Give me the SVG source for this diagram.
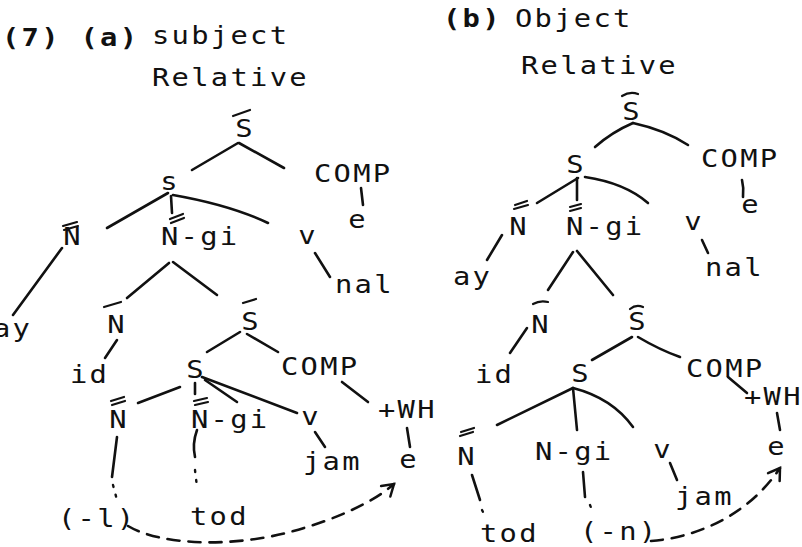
<svg xmlns="http://www.w3.org/2000/svg" width="802" height="547" viewBox="0 0 802 547">
  <style>
    text { font-family: "DejaVu Sans Mono", "Liberation Mono", monospace; font-size: 24px; fill: #111; }
    .t { letter-spacing: 1.9px; }
    .c { text-anchor: middle; }
    .b { font-weight: bold; }
    .ln { fill: none; stroke: #111; stroke-width: 2.6; stroke-linecap: round; }
    .bar { fill: none; stroke: #111; stroke-width: 2.2; stroke-linecap: round; }
    .dot { fill: none; stroke: #111; stroke-width: 2.4; stroke-linecap: round; stroke-dasharray: 2 8; }
    .dash { fill: none; stroke: #111; stroke-width: 2.6; stroke-linecap: round; stroke-dasharray: 12 9; }
  </style>
  <defs>
    <marker id="head" markerUnits="userSpaceOnUse" viewBox="-14 -10 18 20" markerWidth="18" markerHeight="20" refX="0" refY="0" orient="auto">
      <path d="M-11,-7 L0,0 L-11,7" fill="none" stroke="#111" stroke-width="2.5" stroke-linecap="round"/>
    </marker>
  </defs>
  <rect width="802" height="547" fill="#fff"/>

  <!-- headings (glyphs widened 1.2x to the typewriter face) -->
  <g id="title-a">
    <text class="t b" transform="translate(2 46) scale(1.2 1)">(7) (a)</text>
    <text class="t" transform="translate(152 44) scale(1.2 1)">subject</text>
    <text class="t" transform="translate(152 86) scale(1.2 1)">Relative</text>
  </g>
  <g id="title-b">
    <text class="t b" transform="translate(443 27) scale(1.2 1)">(b)</text>
    <text class="t" transform="translate(515 27) scale(1.2 1)">Object</text>
    <text class="t" transform="translate(521 74) scale(1.2 1)">Relative</text>
  </g>

  <!-- tree (a) nodes -->
  <g id="a-sbar-top"><text class="c" transform="translate(244 137) scale(1.2 1)">S</text><path class="bar" d="M233,116 L250,110"/></g>
  <g id="a-comp-top"><text class="t" transform="translate(314 182) scale(1.2 1)">COMP</text></g>
  <g id="a-e-top"><text class="c" transform="translate(357 228) scale(1.2 1)">e</text></g>
  <g id="a-s"><text class="c" transform="translate(169 190) scale(1.2 1)">s</text></g>
  <g id="a-nbb"><text class="c" transform="translate(72 245) scale(1.2 1)">N</text><path class="bar" d="M63,226 L77,222 M64,230 L78,226"/></g>
  <g id="a-ngi-top"><text class="t" transform="translate(161 245) scale(1.2 1)">N-gi</text><path class="bar" d="M170,219 L183,214 M171,223 L184,218"/></g>
  <g id="a-v-top"><text class="c" transform="translate(307 244) scale(1.2 1)">v</text></g>
  <g id="a-nal"><text class="t" transform="translate(335 293) scale(1.2 1)">nal</text></g>
  <g id="a-ay"><text class="t" transform="translate(-7 337) scale(1.2 1)">ay</text></g>
  <g id="a-nbar"><text class="c" transform="translate(116 333) scale(1.2 1)">N</text><path class="bar" d="M104,307 L121,302"/></g>
  <g id="a-id"><text class="t" transform="translate(70 383) scale(1.2 1)">id</text></g>
  <g id="a-sbar-mid"><text class="c" transform="translate(250 330) scale(1.2 1)">S</text><path class="bar" d="M243,303 L256,299"/></g>
  <g id="a-comp-mid"><text class="t" transform="translate(281 375) scale(1.2 1)">COMP</text></g>
  <g id="a-s-low"><text class="c" transform="translate(195 378) scale(1.2 1)">S</text></g>
  <g id="a-nbb-low"><text class="c" transform="translate(118 428) scale(1.2 1)">N</text><path class="bar" d="M111,401 L124,397 M112,405 L125,401"/></g>
  <g id="a-ngi-low"><text class="t" transform="translate(191 428) scale(1.2 1)">N-gi</text><path class="bar" d="M194,401 L207,398 M195,405 L208,402"/></g>
  <g id="a-v-low"><text class="c" transform="translate(310 425) scale(1.2 1)">v</text></g>
  <g id="a-jam"><text class="t" transform="translate(303 470) scale(1.2 1)">jam</text></g>
  <g id="a-wh"><text class="t" transform="translate(378 418) scale(1.2 1)">+WH</text></g>
  <g id="a-e-low"><text class="c" transform="translate(408 468) scale(1.2 1)">e</text></g>
  <g id="a-l"><text class="t" transform="translate(58 527) scale(1.2 1)">(-l)</text></g>
  <g id="a-tod"><text class="t" transform="translate(190 525) scale(1.2 1)">tod</text></g>

  <!-- tree (b) nodes -->
  <g id="b-sbar-top"><text class="c" transform="translate(631 120) scale(1.2 1)">S</text><path class="bar" d="M622,96 Q630,91 638,94"/></g>
  <g id="b-comp-top"><text class="t" transform="translate(701 167) scale(1.2 1)">COMP</text></g>
  <g id="b-e-top"><text class="c" transform="translate(750 213) scale(1.2 1)">e</text></g>
  <g id="b-s"><text class="c" transform="translate(575 173) scale(1.2 1)">S</text></g>
  <g id="b-nbb"><text class="c" transform="translate(518 235) scale(1.2 1)">N</text><path class="bar" d="M515,205 L527,201 M514,209 L528,205"/></g>
  <g id="b-ngi-top"><text class="t" transform="translate(566 235) scale(1.2 1)">N-gi</text><path class="bar" d="M570,207 L581,204 M570,211 L581,208"/></g>
  <g id="b-v-top"><text class="c" transform="translate(693 230) scale(1.2 1)">v</text></g>
  <g id="b-nal"><text class="t" transform="translate(705 276) scale(1.2 1)">nal</text></g>
  <g id="b-ay"><text class="t" transform="translate(453 285) scale(1.2 1)">ay</text></g>
  <g id="b-nbar"><text class="c" transform="translate(540 333) scale(1.2 1)">N</text><path class="bar" d="M533,304 Q540,300 548,302"/></g>
  <g id="b-id"><text class="t" transform="translate(475 383) scale(1.2 1)">id</text></g>
  <g id="b-sbar-mid"><text class="c" transform="translate(637 330) scale(1.2 1)">S</text><path class="bar" d="M630,309 Q636,304 643,307"/></g>
  <g id="b-comp-mid"><text class="t" transform="translate(686 377) scale(1.2 1)">COMP</text></g>
  <g id="b-s-low"><text class="c" transform="translate(580 382) scale(1.2 1)">S</text></g>
  <g id="b-wh"><text class="t" transform="translate(744 405) scale(1.2 1)">+WH</text></g>
  <g id="b-e-low"><text class="c" transform="translate(776 455) scale(1.2 1)">e</text></g>
  <g id="b-nbb-low"><text class="c" transform="translate(466 465) scale(1.2 1)">N</text><path class="bar" d="M461,432 L474,428 M460,436 L473,432"/></g>
  <g id="b-ngi-low"><text class="t" transform="translate(535 460) scale(1.2 1)">N-gi</text></g>
  <g id="b-v-low"><text class="c" transform="translate(662 458) scale(1.2 1)">v</text></g>
  <g id="b-jam"><text class="t" transform="translate(675 505) scale(1.2 1)">jam</text></g>
  <g id="b-tod"><text class="t" transform="translate(480 542) scale(1.2 1)">tod</text></g>
  <g id="b-n"><text class="t" transform="translate(580 540) scale(1.2 1)">(-n)</text></g>

  <!-- branches -->
  <g id="connectors">
    <!-- tree (a) -->
    <path class="ln" d="M238,143 L192,170"/>
    <path class="ln" d="M239,143 L284,168"/>
    <path class="ln" d="M361,188 L363,205"/>
    <path class="ln" d="M168,193 L107,228"/>
    <path class="ln" d="M171,196 L172,213"/>
    <path class="ln" d="M173,195 Q230,205 268,223"/>
    <path class="ln" d="M315,253 L330,277"/>
    <path class="ln" d="M62,248 L13,315"/>
    <path class="ln" d="M169,263 L127,298"/>
    <path class="ln" d="M173,262 L217,295"/>
    <path class="ln" d="M117,340 L105,358"/>
    <path class="ln" d="M240,332 L207,352"/>
    <path class="ln" d="M247,334 L278,352"/>
    <path class="ln" d="M180,387 L138,403"/>
    <path class="ln" d="M195,383 L195,394"/>
    <path class="ln" d="M205,380 L237,402"/>
    <path class="ln" d="M202,377 L297,413" stroke-width="3.2"/>
    <path class="ln" d="M342,382 L368,402"/>
    <path class="ln" d="M407,428 L410,447"/>
    <path class="ln" d="M315,432 L325,447"/>
    <path class="ln" d="M117,437 L112,477"/>
    <path class="dot" d="M113,485 L117,500"/>
    <path class="ln" d="M197,430 Q192,444 195,457"/>
    <path class="dot" d="M195,470 L197,487"/>
    <path class="dash" d="M128,526 C160,545 230,548 290,532 C330,521 370,505 394,484" marker-end="url(#head)"/>

    <!-- tree (b) -->
    <path class="ln" d="M633,123 Q612,132 595,147"/>
    <path class="ln" d="M633,123 Q665,130 688,145"/>
    <path class="ln" d="M742,180 Q744,188 743,197"/>
    <path class="ln" d="M578,178 L537,203"/>
    <path class="ln" d="M577,178 L577,200"/>
    <path class="ln" d="M585,177 Q625,183 648,203"/>
    <path class="ln" d="M702,240 L708,253"/>
    <path class="ln" d="M502,235 L487,260"/>
    <path class="ln" d="M573,252 L548,290"/>
    <path class="ln" d="M577,251 L613,295"/>
    <path class="ln" d="M527,328 L510,353"/>
    <path class="ln" d="M632,337 L592,360"/>
    <path class="ln" d="M638,337 Q660,350 680,357"/>
    <path class="ln" d="M728,377 L747,393"/>
    <path class="ln" d="M777,413 L780,430"/>
    <path class="ln" d="M573,388 L497,425"/>
    <path class="ln" d="M573,388 L577,430"/>
    <path class="ln" d="M573,388 Q612,398 633,427"/>
    <path class="ln" d="M670,463 L677,480"/>
    <path class="ln" d="M472,475 L480,500"/>
    <path class="dot" d="M482,510 L483,512"/>
    <path class="ln" d="M583,472 L585,497"/>
    <path class="dot" d="M590,505 L592,510"/>
    <path class="dash" d="M651,541 C690,538 745,520 780,468" marker-end="url(#head)"/>
  </g>
</svg>
